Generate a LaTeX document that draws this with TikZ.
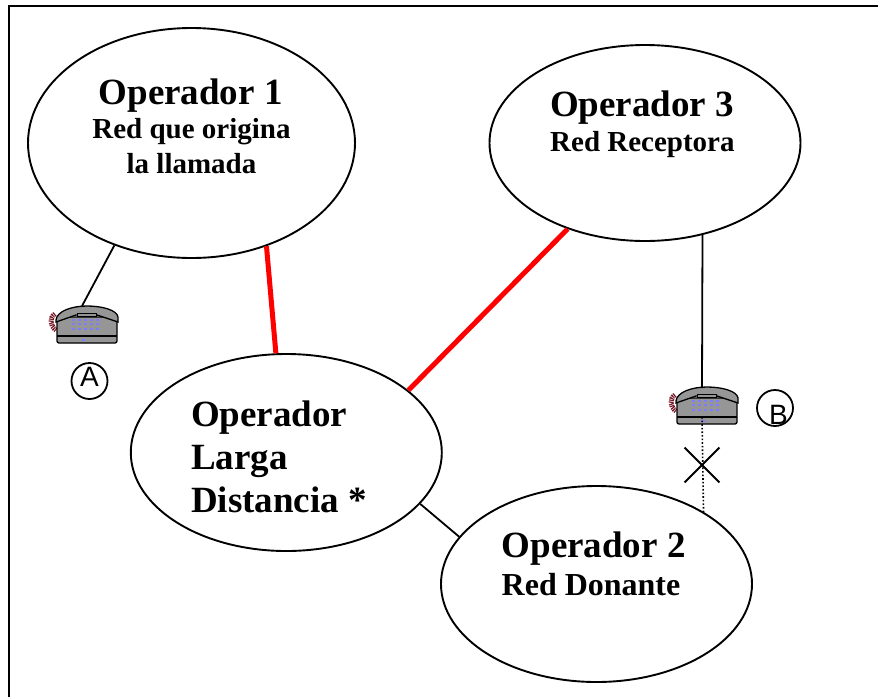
\documentclass[tikz,border=0pt]{standalone}
\usepackage{fontspec}
\setmainfont{Liberation Serif}
\setsansfont{Liberation Sans}
\usetikzlibrary{shapes.geometric, shapes.misc}
\tikzstyle{operador} = [ellipse, draw=black, line width=1.9pt, inner sep=0pt]
\tikzstyle{titulo} = [font=\fontsize{37}{40}\selectfont\bfseries, inner sep=0pt, anchor=base west]
\tikzstyle{sub} = [font=\fontsize{29}{32}\selectfont\bfseries, inner sep=0pt, anchor=base]
\tikzstyle{enlace} = [red, line width=5pt]
\tikzstyle{linea} = [black, line width=1.8pt]
\tikzstyle{letra} = [circle, draw=black, line width=1.8pt, minimum size=36pt, inner sep=0pt]
\tikzstyle{sigla} = [font=\sffamily\fontsize{28}{30}\selectfont, inner sep=0pt, anchor=base]
\definecolor{cuerpo}{RGB}{150,150,150}
\definecolor{rizo}{RGB}{120,25,40}
\definecolor{tecla}{RGB}{125,125,255}
% telefono con su centro en el punto dado
\newcommand{\telefono}[1]{
\begin{scope}[shift={(#1)}]
\draw [rizo, line width=5pt, dash pattern=on 1.2pt off 0.8pt] (-32,-11) .. controls (-38,-7) and (-37,1) .. (-31,5);
\filldraw [fill=cuerpo, draw=black, line width=1.3pt, rounded corners=2pt] (-30,-8) -- (-30,18) -- (30,18) -- (30,-8) -- cycle;
\filldraw [fill=cuerpo, draw=black, line width=1.3pt] (-31,-5) .. controls (-30,-14) and (-15,-19) .. (0,-19) .. controls (15,-19) and (30,-15) .. (31,-8) -- (31,-3) -- (10,-10) -- (-11,-10) -- (-31,-3) -- cycle;
\draw [black, line width=1.3pt] (-30,11) -- (30,11);
\filldraw [fill=cuerpo, draw=black, line width=0.8pt] (-10,-12) rectangle (9,-8.5);
\foreach \tx in {-14,-8,-2,4,10} \foreach \ty in {-5,-1,4}
  \fill [tecla] (\tx-1.5,\ty-1) rectangle (\tx+1.5,\ty+1);
\fill [tecla] (-5.5,14) rectangle (-2.5,16);
\end{scope}
}
\begin{document}
\begin{tikzpicture}[x=1pt, y=-1pt]
\useasboundingbox (0,0) rectangle (878,697);
\coordinate (esquina) at (8.7,5.7);
\draw [black, line width=2.4pt] (8.7,697) -- (esquina) -- (878,5.7);
% nodos
\coordinate (telA) at (87,325);
\coordinate (telB) at (707,406);
\coordinate (conA) at (82,306);
\coordinate (conB) at (702,388);
\coordinate (bajoB) at (702,417);
\node (op1) [operador, minimum width=327pt, minimum height=230pt] at (191.5,143) {};
\node (op3) [operador, minimum width=311pt, minimum height=196pt] at (645,143) {};
\node (ld) [operador, minimum width=311pt, minimum height=197pt] at (286.3,452.5) {};
\node (op2) [operador, minimum width=311pt, minimum height=196pt] at (596.5,584) {};
\node (cruz) [cross out, draw=black, line width=1.8pt, minimum size=33pt, inner sep=0pt] at (702,465) {};
\node (letraA) [letra] at (89.5,381) {};
\node (letraB) [letra] at (775,408) {};
\telefono{telA}
\telefono{telB}
% textos
\node (t1) [titulo] at (98.5,104) {Operador 1};
\node (s1) [sub] at (191.5,138) {Red que origina};
\node (s1b) [sub] at (191.5,173) {la llamada};
\node (t3) [titulo] at (550,116) {Operador 3};
\node (s3) [sub, anchor=base west] at (550,151) {Red Receptora};
\node (tl1) [titulo] at (191,426) {Operador};
\node (tl2) [titulo] at (191,469) {Larga};
\node (tl3) [titulo] at (191,512) {Distancia *};
\node (t2) [titulo] at (501.5,557) {Operador 2};
\node (s2) [sub, font=\fontsize{32}{34}\selectfont\bfseries, anchor=base west] at (501.5,595) {Red Donante};
\node (a) [sigla] at (89.5,386) {A};
\node (b) [sigla] at (778.5,424) {B};
% enlaces
\draw [enlace] (op1.-54.5) -- (ld.96.2);
\draw [enlace] (op3.-132.5) -- (ld.27.4);
\draw [linea] (op1.-127.9) -- (conA);
\draw [linea] (op3.-58.2) -- (conB);
\draw [linea] (ld.-21.6) -- (op2.161.1);
\draw [black, line width=1.6pt, dash pattern=on 1.6pt off 2pt] (bajoB) -- (op2.34.3);
\end{tikzpicture}
\end{document}
